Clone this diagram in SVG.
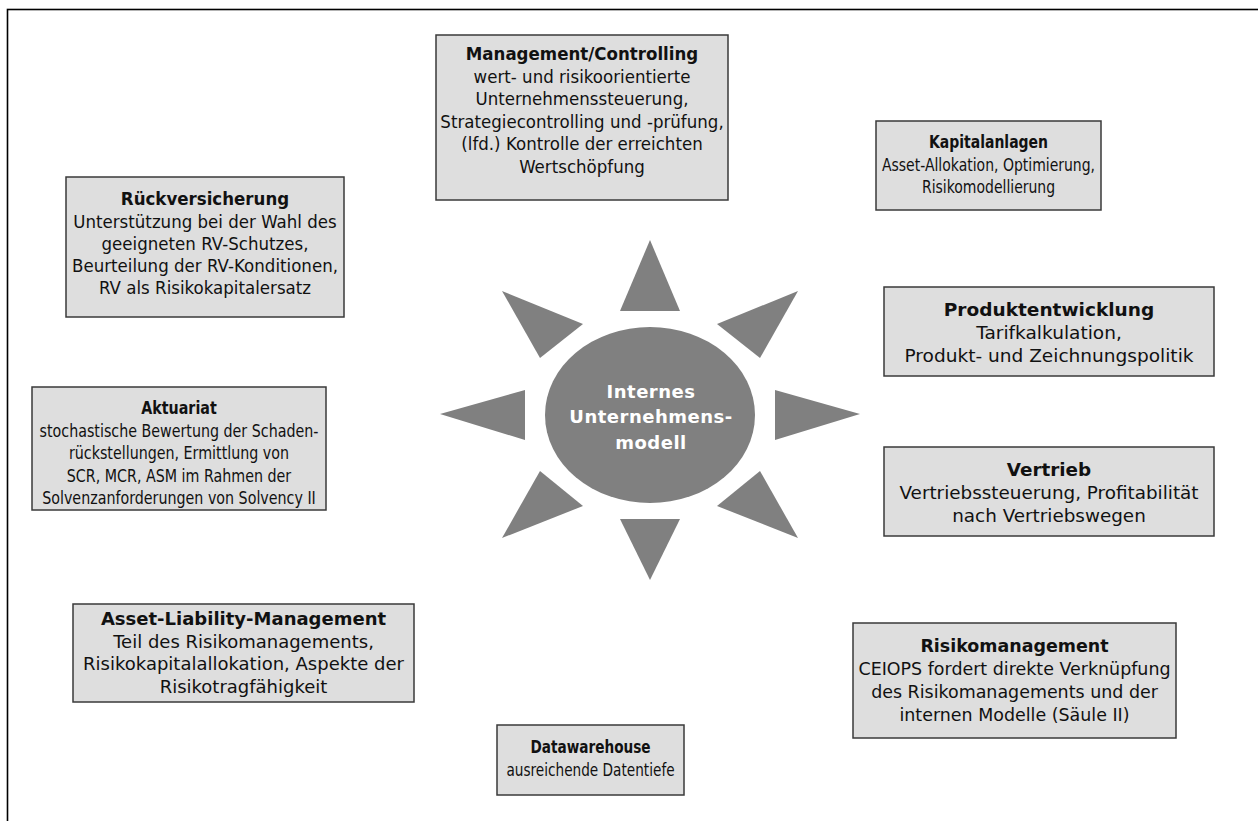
<svg xmlns="http://www.w3.org/2000/svg" width="1258" height="821" viewBox="0 0 1258 821">
  <style>
    .box { fill: #dedede; stroke: #3a3a3a; stroke-width: 1.5; }
    .t { font-family: "DejaVu Sans", sans-serif; font-size: 18px; fill: #111; text-anchor: middle; }
    .s17 { font-size: 17.5px; }
    .b { font-weight: bold; }
    .ray { fill: #808080; }
    .core { fill: #808080; }
    .ct { font-family: "DejaVu Sans", sans-serif; font-size: 18px; font-weight: bold; fill: #ffffff; text-anchor: middle; letter-spacing: 0.5px; }
  </style>

  <rect x="0" y="0" width="1258" height="821" fill="#ffffff"/>
  <!-- frame -->
  <rect x="7.5" y="9.5" width="1300" height="900" fill="none" stroke="#000" stroke-width="1.6"/>

  <!-- rays around the centre -->
  <g id="rays">
    <polygon class="ray" points="650,240 620,311 680,311"/>
    <polygon class="ray" points="650,580 620,519 680,519"/>
    <polygon class="ray" points="440,414 525,390 525,440"/>
    <polygon class="ray" points="860,414 775,390 775,440"/>
    <polygon class="ray" points="502,291 583,324 540,358"/>
    <polygon class="ray" points="798,291 717,324 760,358"/>
    <polygon class="ray" points="502,538 583,506 540,471"/>
    <polygon class="ray" points="798,538 717,506 760,471"/>
  </g>

  <g id="center">
    <ellipse class="core" cx="650" cy="415" rx="105" ry="88"/>
    <text class="ct" x="651" y="398">Internes</text>
    <text class="ct" x="651" y="423">Unternehmens-</text>
    <text class="ct" x="651" y="449">modell</text>
  </g>

  <!-- label blocks: centred on their box, glyph width fitted to the box -->
  <g id="management">
    <rect class="box" x="436" y="35" width="292" height="165"/>
    <g class="t" transform="translate(582 0) scale(0.925 1)">
      <text class="b" x="0" y="60">Management/Controlling</text>
      <text x="0" y="83">wert- und risikoorientierte</text>
      <text x="0" y="105">Unternehmenssteuerung,</text>
      <text x="0" y="128">Strategiecontrolling und -prüfung,</text>
      <text x="0" y="150">(lfd.) Kontrolle der erreichten</text>
      <text x="0" y="173">Wertschöpfung</text>
    </g>
  </g>

  <g id="kapitalanlagen">
    <rect class="box" x="876" y="121" width="225" height="89"/>
    <g class="t s17" transform="translate(988.5 0) scale(0.8 1)">
      <text class="b" x="0" y="148">Kapitalanlagen</text>
      <text x="0" y="171">Asset-Allokation, Optimierung,</text>
      <text x="0" y="193">Risikomodellierung</text>
    </g>
  </g>

  <g id="rueckversicherung">
    <rect class="box" x="66" y="177" width="278" height="140"/>
    <g class="t" transform="translate(205 0) scale(0.925 1)">
      <text class="b" x="0" y="205">Rückversicherung</text>
      <text x="0" y="228">Unterstützung bei der Wahl des</text>
      <text x="0" y="250">geeigneten RV-Schutzes,</text>
      <text x="0" y="272">Beurteilung der RV-Konditionen,</text>
      <text x="0" y="294">RV als Risikokapitalersatz</text>
    </g>
  </g>

  <g id="produktentwicklung">
    <rect class="box" x="884" y="287" width="330" height="89"/>
    <g class="t" transform="translate(1049 0) scale(1.03 1)">
      <text class="b" x="0" y="316">Produktentwicklung</text>
      <text x="0" y="339">Tarifkalkulation,</text>
      <text x="0" y="362">Produkt- und Zeichnungspolitik</text>
    </g>
  </g>

  <g id="aktuariat">
    <rect class="box" x="32" y="387" width="294" height="123"/>
    <g class="t s17" transform="translate(179 0) scale(0.815 1)">
      <text class="b" x="0" y="414">Aktuariat</text>
      <text x="0" y="437">stochastische Bewertung der Schaden-</text>
      <text x="0" y="459">rückstellungen, Ermittlung von</text>
      <text x="0" y="482">SCR, MCR, ASM im Rahmen der</text>
      <text x="0" y="504">Solvenzanforderungen von Solvency II</text>
    </g>
  </g>

  <g id="vertrieb">
    <rect class="box" x="884" y="447" width="330" height="89"/>
    <g class="t" transform="translate(1049 0) scale(1.02 1)">
      <text class="b" x="0" y="476">Vertrieb</text>
      <text x="0" y="499">Vertriebssteuerung, Profitabilität</text>
      <text x="0" y="522">nach Vertriebswegen</text>
    </g>
  </g>

  <g id="alm">
    <rect class="box" x="73" y="604" width="341" height="98"/>
    <g class="t" transform="translate(243.5 0)">
      <text class="b" x="0" y="625">Asset-Liability-Management</text>
      <text x="0" y="648">Teil des Risikomanagements,</text>
      <text x="0" y="670">Risikokapitalallokation, Aspekte der</text>
      <text x="0" y="693">Risikotragfähigkeit</text>
    </g>
  </g>

  <g id="risikomanagement">
    <rect class="box" x="853" y="623" width="323" height="115"/>
    <g class="t" transform="translate(1014.5 0) scale(0.97 1)">
      <text class="b" x="0" y="652">Risikomanagement</text>
      <text x="0" y="675">CEIOPS fordert direkte Verknüpfung</text>
      <text x="0" y="698">des Risikomanagements und der</text>
      <text x="0" y="721">internen Modelle (Säule II)</text>
    </g>
  </g>

  <g id="datawarehouse">
    <rect class="box" x="497" y="725" width="187" height="70"/>
    <g class="t s17" transform="translate(590.5 0) scale(0.78 1)">
      <text class="b" x="0" y="753">Datawarehouse</text>
      <text x="0" y="776">ausreichende Datentiefe</text>
    </g>
  </g>
</svg>
